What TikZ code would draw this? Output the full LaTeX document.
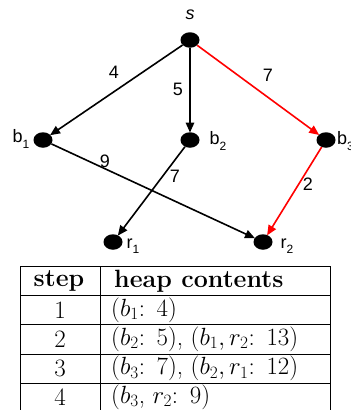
\documentclass[tikz,border=0pt]{standalone}
\usepackage{fontspec}
\newfontfamily\gfont{Liberation Sans}
\usetikzlibrary{arrows.meta,shapes.geometric}
\newcommand{\gsub}[2]{#1\raisebox{-5.5pt}{\fontsize{12}{13}\selectfont #2}}
\begin{document}
\begin{tikzpicture}[x=1pt,y=-1pt,
  vtx/.style={ellipse,fill=black,draw=none,minimum width=19pt,minimum height=15.5pt,inner sep=0pt},
  edge/.style={-{Triangle[length=10pt,width=8.5pt]},line width=1.6pt,shorten >=-0.5pt},
  redge/.style={edge,draw=red,color=red},
  lbl/.style={font=\gfont\fontsize{18}{20}\selectfont,inner sep=0pt},
  tline/.style={line width=0.8pt},
  tt/.style={font=\fontsize{25}{28}\selectfont,inner sep=0pt}]
\useasboundingbox (0,0) rectangle (351,410);
% vertices
\node[vtx] (s) at (190,40) {};
\node[vtx] (b1) at (43,140) {};
\node[vtx] (b2) at (190,140) {};
\node[vtx] (b3) at (326,140) {};
\node[vtx] (r1) at (113,242) {};
\node[vtx] (r2) at (263,242) {};
% vertex labels
\node[lbl] (ls) at (190,15) {\itshape s};
\node[lbl] (lb1) at (21,139) {\gsub{b}{1}};
\node[lbl] (lb2) at (218,141) {\gsub{b}{2}};
\node[lbl,anchor=west] (lb3) at (337,141) {\gsub{b}{3}};
\node[lbl] (lr1) at (133,246) {\gsub{r}{1}};
\node[lbl] (lr2) at (287,246) {\gsub{r}{2}};
% edges
\draw[edge] (s) -- (b1);
\draw[edge] (s) -- (b2);
\draw[redge] (s) -- (b3);
\draw[edge] (b1) -- (r2);
\draw[edge] (b2) -- (r1);
\draw[redge] (b3) -- (r2);
% weights
\node[lbl] (w1) at (114,72) {4};
\node[lbl] (w2) at (178,89) {5};
\node[lbl] (w3) at (268,75) {7};
\node[lbl] (w4) at (105,161) {9};
\node[lbl] (w5) at (175,176) {7};
\node[lbl] (w6) at (308,184) {2};
% table
\draw[tline] (20,266) -- (330,266);
\draw[tline] (20,295) -- (330,295);
\draw[tline] (20,324) -- (330,324);
\draw[tline] (20,354) -- (330,354);
\draw[tline] (20,383) -- (330,383);
\draw[tline] (20,266) -- (20,410);
\draw[tline] (100,266) -- (100,410);
\draw[tline] (330,266) -- (330,410);
\node[tt] (h1) at (59,281) {\textbf{step}};
\node[tt,anchor=west] (h2) at (114,281) {\textbf{heap contents}};
\node[tt] (c11) at (60,310) {1};
\node[tt,anchor=west] (c12) at (111,310) {$(b_1\colon\ 4)$};
\node[tt] (c21) at (60,339) {2};
\node[tt,anchor=west] (c22) at (111,339) {$(b_2\colon\ 5)$, $(b_1,r_2\colon\ 13)$};
\node[tt] (c31) at (60,368.5) {3};
\node[tt,anchor=west] (c32) at (111,368.5) {$(b_3\colon\ 7)$, $(b_2,r_1\colon\ 12)$};
\node[tt] (c41) at (60,397) {4};
\node[tt,anchor=west] (c42) at (111,397) {$(b_3$, $r_2\colon\ 9)$};
\end{tikzpicture}
\end{document}
